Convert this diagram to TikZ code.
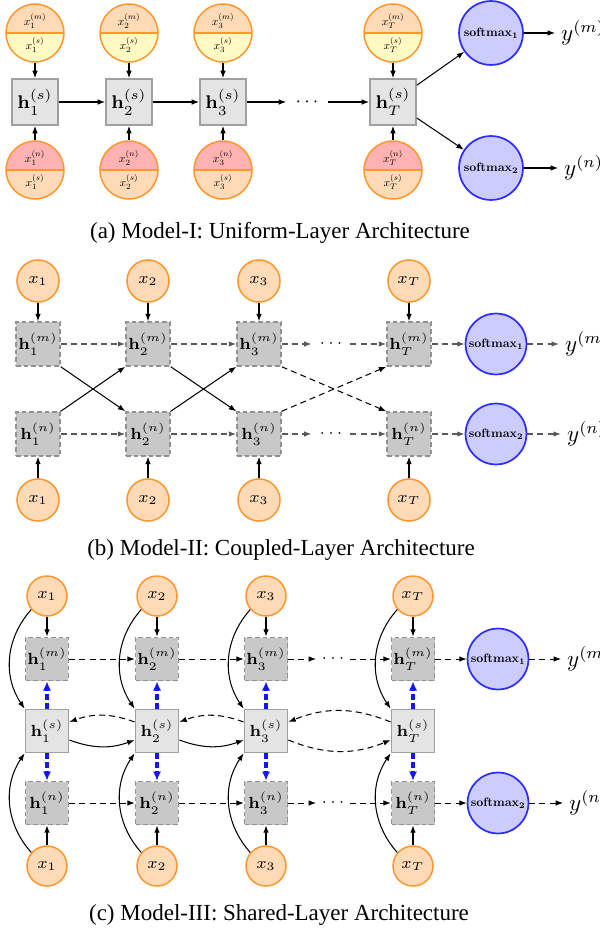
\documentclass[tikz,border=0pt]{standalone}
\usepackage[no-math]{fontspec}
\newfontfamily\capfont{Liberation Serif}
\usetikzlibrary{arrows.meta}
\definecolor{orB}{RGB}{255,150,45}
\definecolor{orF}{RGB}{255,218,182}
\definecolor{yeF}{RGB}{255,250,196}
\definecolor{pkF}{RGB}{255,178,178}
\definecolor{blF}{RGB}{204,204,255}
\definecolor{blB}{RGB}{45,45,255}
\definecolor{bxF}{RGB}{228,228,228}
\definecolor{bxB}{RGB}{160,160,160}
\definecolor{dbF}{RGB}{200,200,200}
\definecolor{dbB}{RGB}{145,145,145}
\definecolor{blA}{RGB}{20,20,255}
\newcommand{\smx}[1]{\scalebox{0.53}{\fontsize{10}{12}\selectfont$\mathbf{softmax_{#1}}$}}
\newcommand{\tnx}[2]{\scalebox{0.5}{\fontsize{10}{12}\selectfont$x_{#1}^{(#2)}$}}
\begin{document}
\begin{tikzpicture}[x=0.435pt,y=-0.435pt,
  arr/.style={-{Latex[length=3.2pt,width=2.4pt]}, line width=0.45pt},
  dsh/.style={dash pattern=on 2.6pt off 1.8pt},
  rowB/.style={arr, dsh, draw=black!65, line width=0.6pt},
  rowC/.style={arr, dsh, line width=0.4pt},
  bluearr/.style={-{Latex[length=4pt,width=3.6pt]}, draw=blA, line width=1.4pt, dash pattern=on 2.4pt off 1.5pt},
  splitA/.style={circle, draw=orB, line width=0.65pt, minimum size=25.2pt, inner sep=0pt, align=center, font=\fontsize{5}{10.2}\selectfont},
  topsplit/.style={splitA, fill=orF, path picture={
     \fill[yeF] (path picture bounding box.west) rectangle (path picture bounding box.south east);
     \draw[orB, line width=0.65pt] (path picture bounding box.west) -- (path picture bounding box.east);}},
  botsplit/.style={splitA, fill=pkF, path picture={
     \fill[orF] (path picture bounding box.west) rectangle (path picture bounding box.south east);
     \draw[orB, line width=0.65pt] (path picture bounding box.west) -- (path picture bounding box.east);}},
  boxA/.style={rectangle, draw=bxB, fill=bxF, line width=0.8pt, minimum size=20pt, inner sep=0pt, font=\fontsize{8}{9}\selectfont},
  softA/.style={circle, draw=blB, fill=blF, line width=0.75pt, minimum size=27.8pt, inner sep=0pt},
  softB/.style={softA, minimum size=26.5pt},
  ylab/.style={anchor=west, inner sep=2.5pt, font=\fontsize{10}{12}\selectfont},
  dotsA/.style={inner sep=0pt, minimum width=17.8pt, font=\fontsize{8}{9}\selectfont},
  dotsB/.style={inner sep=0pt, minimum width=16.5pt, font=\fontsize{7.5}{9}\selectfont},
  dotsC/.style={inner sep=0pt, minimum width=14.4pt, font=\fontsize{7}{9}\selectfont},
  circB/.style={circle, draw=orB, fill=orF, line width=0.65pt, minimum size=18.3pt, inner sep=0pt, font=\fontsize{7.5}{9}\selectfont},
  circC/.style={circB, minimum size=17.4pt, font=\fontsize{7}{8}\selectfont},
  dboxB/.style={rectangle, draw=dbB, fill=dbF, line width=0.7pt, dash pattern=on 2pt off 1.3pt, minimum size=19.1pt, inner sep=0pt, font=\fontsize{7.5}{9}\selectfont},
  dboxC/.style={dboxB, minimum size=18.7pt, font=\fontsize{7}{8}\selectfont},
  boxC/.style={boxA, minimum size=18.7pt, font=\fontsize{7}{8}\selectfont},
  captext/.style={inner sep=0pt, font=\capfont\fontsize{10}{12}\selectfont}
]
\useasboundingbox (0,0) rectangle (600,935);

% ---------------- (a) ----------------
\foreach \i/\x in {1/35,2/129,3/223,T/393}{
  \node[topsplit] (at\i) at (\x,33) {\tnx{\i}{m}\\\tnx{\i}{s}};
  \node[boxA] (ah\i) at (\x,102) {$\mathbf{h}_{\i}^{(s)}$};
  \node[botsplit] (ab\i) at (\x,170) {\tnx{\i}{n}\\\tnx{\i}{s}};
  \draw[arr] (at\i) -- (ah\i);
  \draw[arr] (ab\i) -- (ah\i);
}
\node[dotsA] (ad) at (307,102) {$\cdots$};
\draw[arr] (ah1) -- (ah2);
\draw[arr] (ah2) -- (ah3);
\draw[arr] (ah3) -- (ad);
\draw[arr] (ad) -- (ahT);
\node[softA] (as1) at (491,33) {\smx{1}};
\node[softA] (as2) at (491,168) {\smx{2}};
\node[ylab] (aym) at (555,33) {$y^{(m)}$};
\node[ylab] (ayn) at (558,168) {$y^{(n)}$};
\draw[arr] (ahT) -- (as1);
\draw[arr] (ahT) -- (as2);
\draw[arr] (as1) -- (aym);
\draw[arr] (as2) -- (ayn);
\node[captext] (capa) at (280,233) {(a) Model-I: Uniform-Layer Architecture};

% ---------------- (b) ----------------
\foreach \i/\x in {1/38,2/148,3/259,T/409}{
  \node[circB] (bt\i) at (\x,281) {$x_{\i}$};
  \node[dboxB] (bm\i) at (\x,344) {$\mathbf{h}_{\i}^{(m)}$};
  \node[dboxB] (bn\i) at (\x,434) {$\mathbf{h}_{\i}^{(n)}$};
  \node[circB] (bb\i) at (\x,500) {$x_{\i}$};
  \draw[arr] (bt\i) -- (bm\i);
  \draw[arr] (bb\i) -- (bn\i);
}
\node[dotsB] (bdm) at (331,344) {$\cdots$};
\node[dotsB] (bdn) at (331,434) {$\cdots$};
\node[softB] (bs1) at (496,344) {\smx{1}};
\node[softB] (bs2) at (496,434) {\smx{2}};
\node[ylab] (bym) at (559,344) {$y^{(m)}$};
\node[ylab] (byn) at (561,434) {$y^{(n)}$};
\foreach \r/\s in {m/1,n/2}{
  \draw[rowB] (b\r1) -- (b\r2);
  \draw[rowB] (b\r2) -- (b\r3);
  \draw[rowB] (b\r3) -- (bd\r);
  \draw[rowB] (bd\r) -- (b\r T);
  \draw[rowB] (b\r T) -- (bs\s);
  \draw[rowB] (bs\s) -- (by\r);
}
\draw[arr] (bm1.south east) -- (bn2.north west);
\draw[arr] (bn1.north east) -- (bm2.south west);
\draw[arr] (bm2.south east) -- (bn3.north west);
\draw[arr] (bn2.north east) -- (bm3.south west);
\draw[arr, dsh] (bm3.south east) -- (bnT.north west);
\draw[arr, dsh] (bn3.north east) -- (bmT.south west);
\node[captext] (capb) at (281,550) {(b) Model-II: Coupled-Layer Architecture};

% ---------------- (c) ----------------
\foreach \i/\x in {1/47,2/157,3/266,T/413}{
  \node[circC] (ct\i) at (\x,596) {$x_{\i}$};
  \node[dboxC] (cm\i) at (\x,659) {$\mathbf{h}_{\i}^{(m)}$};
  \node[boxC] (cs\i) at (\x,731) {$\mathbf{h}_{\i}^{(s)}$};
  \node[dboxC] (cn\i) at (\x,803) {$\mathbf{h}_{\i}^{(n)}$};
  \node[circC] (cb\i) at (\x,866) {$x_{\i}$};
  \draw[arr] (ct\i) -- (cm\i);
  \draw[arr] (cb\i) -- (cn\i);
  \draw[arr] (ct\i) to[bend right=38] (cs\i.north west);
  \draw[arr] (cb\i) to[bend left=38] (cs\i.south west);
  \draw[bluearr] (cs\i) -- (cm\i);
  \draw[bluearr] (cs\i) -- (cn\i);
}
\node[dotsC] (cdm) at (333,659) {$\cdots$};
\node[dotsC] (cdn) at (333,803) {$\cdots$};
\node[softB] (cs1x) at (498,659) {\smx{1}};
\node[softB] (cs2x) at (498,803) {\smx{2}};
\node[ylab] (cym) at (561,659) {$y^{(m)}$};
\node[ylab] (cyn) at (563,803) {$y^{(n)}$};
\foreach \r/\s in {m/1,n/2}{
  \draw[rowC] (c\r1) -- (c\r2);
  \draw[rowC] (c\r2) -- (c\r3);
  \draw[rowC] (c\r3) -- (cd\r);
  \draw[rowC] (cd\r) -- (c\r T);
  \draw[rowC] (c\r T) -- (cs\s x);
  \draw[rowC] (cs\s x) -- (cy\r);
}
\draw[arr] (cs1.-22) to[bend right=20] (cs2.202);
\draw[arr, dsh] (cs2.158) to[bend right=20] (cs1.22);
\draw[arr] (cs2.-22) to[bend right=20] (cs3.202);
\draw[arr, dsh] (cs3.158) to[bend right=20] (cs2.22);
\draw[arr, dsh] (cs3.-22) to[bend right=22] (csT.202);
\draw[arr, dsh] (csT.158) to[bend right=22] (cs3.22);
\node[captext] (capc) at (279,915) {(c) Model-III: Shared-Layer Architecture};
\end{tikzpicture}
\end{document}
